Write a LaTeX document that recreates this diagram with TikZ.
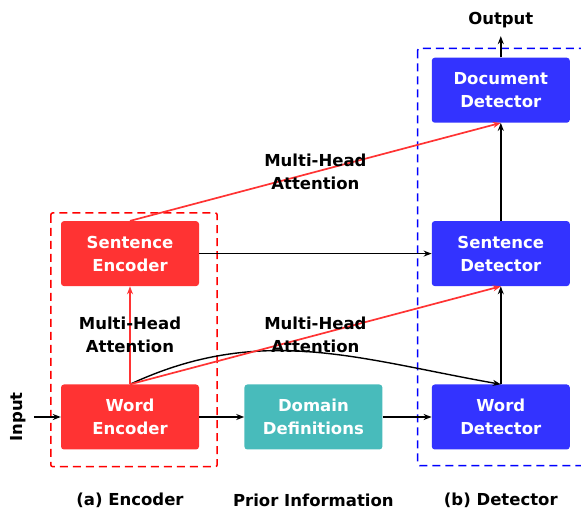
\documentclass[tikz,border=0pt]{standalone}
\usepackage{fontspec}
\setmainfont{DejaVu Sans}
\usetikzlibrary{positioning,arrows.meta}
\definecolor{encred}{HTML}{FF3333}
\definecolor{priorteal}{HTML}{48BBBB}
\definecolor{detblue}{HTML}{3333FF}
\tikzstyle{block} = [rectangle, rounded corners=3pt, minimum width=138pt, minimum height=65pt, align=center, text=white, font=\bfseries\fontsize{16.5}{23}\selectfont]
\tikzstyle{encoder} = [block, fill=encred]
\tikzstyle{prior} = [block, fill=priorteal]
\tikzstyle{detector} = [block, fill=detblue]
\tikzstyle{caption} = [align=center, inner sep=1pt, font=\bfseries\fontsize{16.5}{23}\selectfont]
\tikzstyle{arrow} = [line width=1.4pt,->,>={Stealth[length=8pt,width=6pt]}]
\tikzstyle{attnarrow} = [arrow, draw=encred, line width=1.7pt]
\tikzstyle{frame} = [line width=1.5pt, dash pattern=on 8pt off 5pt, rounded corners=2pt]

\begin{document}
\begin{tikzpicture}[x=1pt, y=1pt]
		\useasboundingbox (0,0) rectangle (581,513);
		\node (wenc) [encoder] at (130,96) {Word\\Encoder};
		\node (senc) [encoder, above=98pt of wenc] {Sentence\\Encoder};
		\node (defs) [prior, right=45pt of wenc] {Domain\\Definitions};
		\node (wdet) [detector, right=49pt of defs] {Word\\Detector};
		\node (sdet) [detector, above=98pt of wdet] {Sentence\\Detector};
		\node (ddet) [detector, above=98pt of sdet] {Document\\Detector};

		\node (inp) [caption, rotate=90, left=34pt of wenc, anchor=south] {Input};
		\node (out) [caption, above=33pt of ddet, anchor=base] {Output};
		\node (capenc) [caption, below=56pt of wenc, anchor=base] {(a) Encoder};
		\node (capdefs) [caption, below=57pt of defs, anchor=base] {Prior Information};
		\node (capdet) [caption, below=56pt of wdet, anchor=base] {(b) Detector};

		\draw [frame, draw=red] ([shift={(-10pt,8pt)}]senc.north west) rectangle ([shift={(18pt,-17pt)}]wenc.south east);
		\draw [frame, draw=blue] ([shift={(-14pt,9pt)}]ddet.north west) rectangle ([shift={(18pt,-16pt)}]wdet.south east);

		\draw [arrow, shorten <=7pt] (inp.south) -- (wenc.west);
		\draw [arrow] (wenc) -- (defs);
		\draw [arrow] (defs) -- (wdet);
		\draw [arrow] (senc) -- (sdet);
		\draw [arrow] (wdet) -- (sdet);
		\draw [arrow] (sdet) -- (ddet);
		\draw [arrow, shorten >=7pt] (ddet) -- (out);
		\draw [arrow] (wenc.north) to[out=25, in=170] (wdet.north);

		\draw [attnarrow] (wenc.north) -- node [caption] {Multi-Head\\Attention} (senc.south);
		\draw [attnarrow] (wenc.north) -- node [caption] {Multi-Head\\Attention} (sdet.south);
		\draw [attnarrow] (senc.north) -- node [caption] {Multi-Head\\Attention} (ddet.south);
	\end{tikzpicture}
\end{document}
